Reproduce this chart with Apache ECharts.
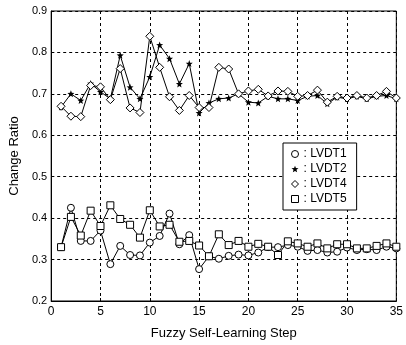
<!DOCTYPE html>
<html>
<head>
<meta charset="utf-8">
<script src="https://cdn.jsdelivr.net/npm/echarts@6/dist/echarts.min.js"></script>
<style>
  html, body { margin: 0; padding: 0; background: #fff; }
  #chart { width: 406px; height: 345px; }
</style>
</head>
<body>
<div id="chart"></div>
<script>
  // values
  const steps = [1, 2, 3, 4, 5, 6, 7, 8, 9, 10, 11, 12, 13, 14, 15, 16, 17, 18, 19, 20,
    21, 22, 23, 24, 25, 26, 27, 28, 29, 30, 31, 32, 33, 34, 35];
  const lvdt1 = [0.330, 0.425, 0.345, 0.345, 0.370, 0.289, 0.333, 0.311, 0.310, 0.341,
    0.357, 0.411, 0.337, 0.359, 0.277, 0.308, 0.302, 0.309, 0.312, 0.310,
    0.317, 0.330, 0.330, 0.335, 0.331, 0.321, 0.323, 0.317, 0.319, 0.329,
    0.323, 0.325, 0.323, 0.331, 0.327];
  const lvdt2 = [0.668, 0.700, 0.684, 0.725, 0.705, 0.688, 0.793, 0.716, 0.688, 0.741,
    0.818, 0.785, 0.724, 0.773, 0.654, 0.678, 0.688, 0.690, 0.700, 0.680,
    0.678, 0.694, 0.688, 0.688, 0.684, 0.694, 0.696, 0.676, 0.692, 0.688,
    0.694, 0.688, 0.694, 0.696, 0.688];
  const lvdt4 = [0.670, 0.646, 0.645, 0.720, 0.717, 0.686, 0.761, 0.666, 0.655, 0.839,
    0.764, 0.693, 0.660, 0.696, 0.667, 0.667, 0.764, 0.760, 0.700, 0.707,
    0.711, 0.695, 0.707, 0.706, 0.694, 0.696, 0.709, 0.680, 0.694, 0.690,
    0.696, 0.690, 0.696, 0.706, 0.690];
  const lvdt5 = [0.330, 0.403, 0.358, 0.418, 0.381, 0.431, 0.398, 0.384, 0.353, 0.419,
    0.380, 0.384, 0.343, 0.345, 0.334, 0.308, 0.361, 0.335, 0.345, 0.331,
    0.338, 0.331, 0.311, 0.344, 0.339, 0.331, 0.339, 0.327, 0.337, 0.337,
    0.327, 0.327, 0.333, 0.339, 0.331];

  const font = "'Liberation Sans', Arial, sans-serif";
  const starPath = 'path://M0,-10 L2.5,-3.5 L9.5,-3.1 L4,1.3 L5.9,8.1 L0,4.2 L-5.9,8.1 L-4,1.3 L-9.5,-3.1 L-2.5,-3.5 Z';
  const openStyle = { color: '#fff', borderColor: '#000', borderWidth: 1 };
  const solidStyle = { color: '#000', borderWidth: 0 };

  function pairs (ys) {
    let out = [];
    for (let i = 0; i < steps.length; i++) {
      out.push([steps[i], ys[i]]);
    }
    return out;
  }

  function makeSeries (name, ys, symbol, size, filled) {
    return {
      name: name,
      type: 'line',
      data: pairs(ys),
      symbol: symbol,
      symbolSize: size,
      showSymbol: true,
      animation: false,
      lineStyle: { color: '#000', width: 1 },
      itemStyle: filled ? solidStyle : openStyle
    };
  }

  let myChart = echarts.init(document.getElementById('chart'));
  myChart.setOption({
    backgroundColor: '#fff',
    grid: {
      left: 42,
      right: 3,
      top: 11,
      bottom: 40,
      show: true,
      borderColor: '#000',
      borderWidth: 1
    },
    legend: {
      orient: 'vertical',
      left: 283,
      top: 143,
      padding: [5, 10, 5, 8],
      itemGap: 3,
      itemWidth: 7,
      itemHeight: 7,
      borderColor: '#000',
      borderWidth: 1,
      backgroundColor: '#fff',
      formatter: ': {name}',
      textStyle: { color: '#000', fontSize: 12, fontFamily: font },
      data: [
        { name: 'LVDT1', icon: 'circle', itemStyle: openStyle },
        { name: 'LVDT2', icon: starPath, itemStyle: solidStyle },
        { name: 'LVDT4', icon: 'diamond', itemStyle: openStyle },
        { name: 'LVDT5', icon: 'rect', itemStyle: openStyle }
      ]
    },
    xAxis: {
      type: 'value',
      min: 0,
      max: 35,
      interval: 5,
      name: 'Fuzzy Self-Learning Step',
      nameLocation: 'middle',
      nameGap: 26,
      nameTextStyle: { color: '#000', fontSize: 13, fontFamily: font },
      axisLine: { show: true, lineStyle: { color: '#000' } },
      axisTick: { show: true, inside: true, length: 3, lineStyle: { color: '#000' } },
      axisLabel: { color: '#000', fontSize: 12, fontFamily: font, margin: 5 },
      splitLine: { show: true, lineStyle: { color: '#000', type: [3, 3], width: 1 } }
    },
    yAxis: {
      type: 'value',
      min: 0.2,
      max: 0.9,
      interval: 0.1,
      name: 'Change Ratio',
      nameLocation: 'middle',
      nameGap: 25,
      nameTextStyle: { color: '#000', fontSize: 13, fontFamily: font },
      axisLine: { show: true, lineStyle: { color: '#000' } },
      axisTick: { show: true, inside: true, length: 3, lineStyle: { color: '#000' } },
      axisLabel: {
        color: '#000',
        fontSize: 11,
        fontFamily: font,
        margin: 4,
        formatter: function (v) { return v.toFixed(1); }
      },
      splitLine: { show: true, lineStyle: { color: '#000', type: [3, 3], width: 1 } }
    },
    series: [
      makeSeries('LVDT1', lvdt1, 'circle', 7, false),
      makeSeries('LVDT2', lvdt2, starPath, 7, true),
      makeSeries('LVDT4', lvdt4, 'diamond', 8, false),
      makeSeries('LVDT5', lvdt5, 'rect', 7, false)
    ]
  });
</script>
</body>
</html>
